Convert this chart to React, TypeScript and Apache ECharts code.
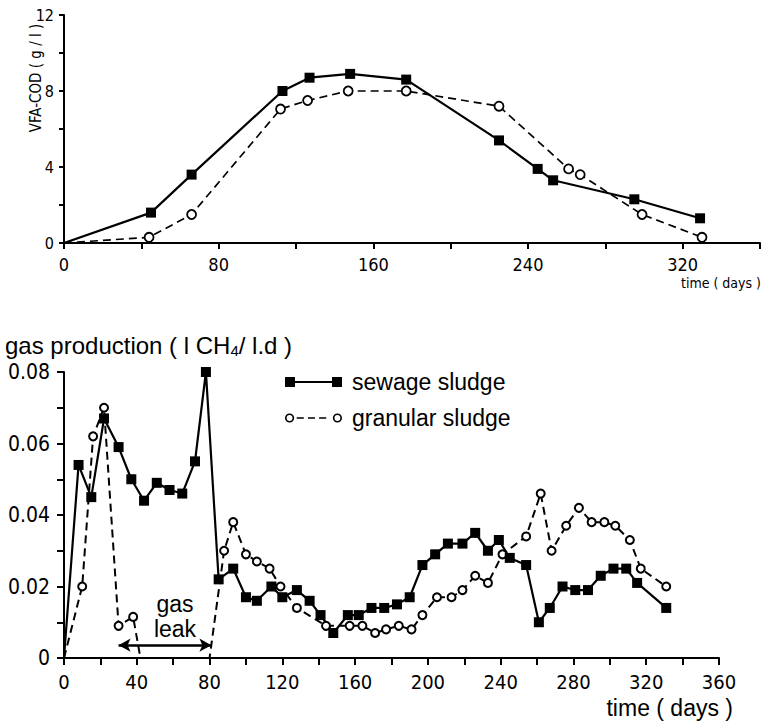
import React, { useEffect, useRef } from "react";
import * as echarts from "echarts";

// Upper panel: volatile fatty acids (VFA-COD, g/l) against time (days)
const vfaSewageDays = [0, 45, 66, 113, 127, 148, 177, 225, 245, 253, 295, 329];
const vfaSewage = [0, 1.6, 3.6, 8.0, 8.7, 8.9, 8.6, 5.4, 3.9, 3.3, 2.3, 1.3];
const vfaGranularDays = [0, 44, 66, 112, 126, 147, 177, 225, 261, 267, 299, 330];
const vfaGranular = [0, 0.3, 1.5, 7.05, 7.5, 8.0, 8.0, 7.2, 3.9, 3.6, 1.5, 0.3];

// Lower panel: gas production (l CH4 / l.d) against time (days)
const gasSewageDays = [
  0, 8, 15, 22, 30, 37, 44, 51, 58, 65, 72, 78, 85, 93, 100, 106, 114, 120, 128, 135,
  141, 148, 156, 162, 169, 176, 183, 190, 197, 204, 211, 219, 226, 233, 239, 245, 254,
  261, 267, 274, 281, 288, 295, 302, 309, 315, 331,
];
const gasSewage = [
  0, 0.054, 0.045, 0.067, 0.059, 0.05, 0.044, 0.049, 0.047, 0.046, 0.055, 0.08, 0.022,
  0.025, 0.017, 0.016, 0.02, 0.017, 0.019, 0.016, 0.012, 0.007, 0.012, 0.012, 0.014,
  0.014, 0.015, 0.017, 0.026, 0.029, 0.032, 0.032, 0.035, 0.03, 0.033, 0.028, 0.026,
  0.01, 0.014, 0.02, 0.019, 0.019, 0.023, 0.025, 0.025, 0.021, 0.014,
];
const gasGranularDays = [
  0, 10, 16, 22, 30, 38, 42, 80, 88, 93, 100, 106, 113, 119, 128, 144, 157, 164, 171,
  177, 184, 191, 197, 205, 213, 219, 226, 233, 241, 254, 262, 268, 276, 283, 290, 297,
  303, 311, 317, 331,
];
const gasGranular = [
  0, 0.02, 0.062, 0.07, 0.009, 0.0115, 0, 0, 0.03, 0.038, 0.029, 0.027, 0.025, 0.02,
  0.014, 0.009, 0.009, 0.009, 0.007, 0.008, 0.009, 0.008, 0.012, 0.017, 0.017, 0.019,
  0.023, 0.021, 0.029, 0.034, 0.046, 0.03, 0.037, 0.042, 0.038, 0.038, 0.037, 0.033,
  0.025, 0.02,
];
// points on the axis where no measurement symbol is drawn
const gasGranularUnmarked = [0, 6, 7];

// gas leak period (days) shown by the double arrow
const gasLeakStart = 30;
const gasLeakEnd = 81;

const seriesNames = ["sewage sludge", "granular sludge"];

const tickFont = "'Liberation Sans Narrow', 'DejaVu Sans Condensed', 'Liberation Sans', sans-serif";
const textFont = "'Liberation Sans', 'DejaVu Sans', sans-serif";

function toPoints(xs: number[], ys: number[], unmarked: number[] = [0]) {
  return xs.map((x, i) =>
    unmarked.includes(i) ? { value: [x, ys[i]], symbol: "none" } : [x, ys[i]]
  );
}

const sewageIcon = "path://M0,0h10v10h-10z M10,4.1h37v1.8h-37z M47,0h10v10h-10z";
const granularIcon =
  "path://M0.5,5A4.5,4.5 0 1,1 9.5,5A4.5,4.5 0 1,1 0.5,5Z M2.1,5A2.9,2.9 0 1,0 7.9,5A2.9,2.9 0 1,0 2.1,5Z" +
  " M12,4.2h7v1.6h-7z M23,4.2h7v1.6h-7z M34,4.2h7v1.6h-7z" +
  " M47.5,5A4.5,4.5 0 1,1 56.5,5A4.5,4.5 0 1,1 47.5,5Z M49.1,5A2.9,2.9 0 1,0 54.9,5A2.9,2.9 0 1,0 49.1,5Z";

export default function App() {
  const ref = useRef<HTMLDivElement>(null);

  useEffect(() => {
    if (!ref.current) return;
    const chart = echarts.init(ref.current, undefined, { renderer: "svg" });

    const axisLine = { lineStyle: { color: "#000", width: 2 } };
    const black = "#000";

    chart.setOption({
      animation: false,
      backgroundColor: "#fff",
      grid: [
        { left: 64, right: 3, top: 15, height: 228 },
        { left: 64, right: 44, top: 372, height: 286 },
      ],
      legend: {
        orient: "vertical",
        left: 280,
        top: 364,
        itemWidth: 57,
        itemHeight: 10,
        itemGap: 10,
        selectedMode: false,
        textStyle: { fontFamily: textFont, fontSize: 23, color: black, lineHeight: 26, padding: [0, 0, 0, 5] },
        data: [
          { name: seriesNames[0], icon: sewageIcon, itemStyle: { color: black, borderWidth: 0 } },
          { name: seriesNames[1], icon: granularIcon, itemStyle: { color: black, borderWidth: 0 } },
        ],
      },
      xAxis: [
        {
          gridIndex: 0,
          type: "value",
          min: 0,
          max: 360,
          interval: 40,
          axisLine,
          axisTick: { length: 6, lineStyle: { color: black, width: 2 } },
          splitLine: { show: false },
          axisLabel: {
            margin: 12,
            color: black,
            fontFamily: tickFont,
            fontSize: 18,
            formatter: (v: number) => (v % 80 === 0 && v < 360 ? String(v) : ""),
          },
        },
        {
          gridIndex: 1,
          type: "value",
          min: 0,
          max: 360,
          interval: 20,
          axisLine,
          axisTick: { length: 7, lineStyle: { color: black, width: 2 } },
          splitLine: { show: false },
          axisLabel: {
            margin: 14,
            color: black,
            fontFamily: tickFont,
            fontSize: 20,
            formatter: (v: number) => (v % 40 === 0 ? String(v) : ""),
          },
        },
      ],
      yAxis: [
        {
          gridIndex: 0,
          type: "value",
          min: 0,
          max: 12,
          interval: 2,
          axisLine: { show: true, ...axisLine },
          axisTick: { show: true, length: 5, lineStyle: { color: black, width: 2 } },
          splitLine: { show: false },
          axisLabel: {
            margin: 10,
            color: black,
            fontFamily: tickFont,
            fontSize: 16,
            formatter: (v: number) => (v % 4 === 0 ? String(v) : ""),
          },
        },
        {
          gridIndex: 1,
          type: "value",
          min: 0,
          max: 0.08,
          interval: 0.01,
          axisLine: { show: true, ...axisLine },
          axisTick: { show: true, length: 7, lineStyle: { color: black, width: 2 } },
          splitLine: { show: false },
          axisLabel: {
            margin: 14,
            color: black,
            fontFamily: tickFont,
            fontSize: 21,
            formatter: (v: number) => {
              const k = Math.round(v * 100);
              if (Math.abs(v * 100 - k) > 1e-6 || k % 2 !== 0) return "";
              return k === 0 ? "0" : (k / 100).toFixed(2);
            },
          },
        },
      ],
      series: [
        {
          name: seriesNames[1],
          type: "line",
          xAxisIndex: 0,
          yAxisIndex: 0,
          data: toPoints(vfaGranularDays, vfaGranular),
          symbol: "circle",
          symbolSize: 9,
          itemStyle: { color: "#fff", borderColor: black, borderWidth: 1.8 },
          lineStyle: { color: black, width: 1.7, type: [8, 5] },
          silent: true,
        },
        {
          name: seriesNames[0],
          type: "line",
          xAxisIndex: 0,
          yAxisIndex: 0,
          data: toPoints(vfaSewageDays, vfaSewage),
          symbol: "rect",
          symbolSize: 10,
          itemStyle: { color: black },
          lineStyle: { color: black, width: 2.2 },
          silent: true,
        },
        {
          name: seriesNames[1],
          type: "line",
          xAxisIndex: 1,
          yAxisIndex: 1,
          data: toPoints(gasGranularDays, gasGranular, gasGranularUnmarked),
          symbol: "circle",
          symbolSize: 8,
          itemStyle: { color: "#fff", borderColor: black, borderWidth: 2 },
          lineStyle: { color: black, width: 2, type: [8, 5] },
          silent: true,
          markLine: {
            silent: true,
            symbol: ["arrow", "arrow"],
            symbolSize: [10, 12],
            lineStyle: { color: black, width: 2.5, type: "solid" },
            label: { show: false },
            data: [[{ coord: [gasLeakStart, 0.0036] }, { coord: [gasLeakEnd, 0.0036] }]],
          },
          markPoint: {
            silent: true,
            symbol: "circle",
            symbolSize: 1,
            itemStyle: { color: "rgba(0,0,0,0)" },
            label: {
              show: true,
              position: "inside",
              formatter: "gas\nleak",
              fontFamily: textFont,
              fontSize: 23,
              lineHeight: 25,
              color: black,
            },
            data: [{ coord: [61, 0.0116] }],
          },
        },
        {
          name: seriesNames[0],
          type: "line",
          xAxisIndex: 1,
          yAxisIndex: 1,
          data: toPoints(gasSewageDays, gasSewage),
          symbol: "rect",
          symbolSize: 10,
          itemStyle: { color: black },
          lineStyle: { color: black, width: 2.2 },
          silent: true,
        },
      ],
      graphic: [
        {
          type: "text",
          x: 36,
          y: 78,
          rotation: Math.PI / 2,
          style: {
            text: "VFA-COD ( g / l )",
            font: `15px ${tickFont}`,
            fill: black,
            textAlign: "center",
            textVerticalAlign: "middle",
          },
        },
        {
          type: "text",
          right: 2,
          top: 276,
          style: { text: "time ( days )", font: `14px ${tickFont}`, fill: black },
        },
        {
          type: "text",
          left: 5,
          top: 333,
          style: {
            text: "gas production ( l CH{sub|4}/ l.d )",
            font: `24px ${textFont}`,
            fill: black,
            rich: {
              sub: { fontSize: 15, fontFamily: textFont, padding: [10, 0, 0, 0], fill: black },
            },
          },
        },
        {
          type: "text",
          right: 30,
          top: 696,
          style: { text: "time ( days )", font: `23px ${textFont}`, fill: black },
        },
      ],
    });

    return () => chart.dispose();
  }, []);

  return (
    <div
      ref={ref}
      style={{ position: "fixed", left: 0, top: 0, width: 763, height: 726, background: "#fff" }}
    />
  );
}
